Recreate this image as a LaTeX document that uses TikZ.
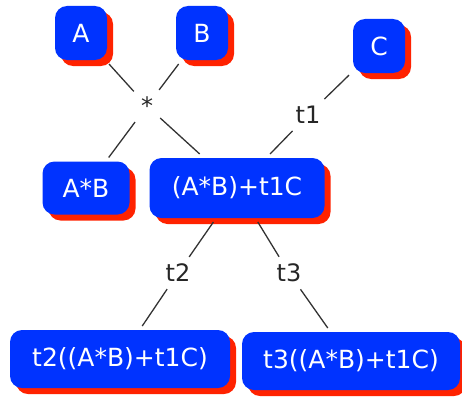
\documentclass[tikz,border=0pt]{standalone}
\usepackage{fontspec}
\setmainfont{DejaVu Sans}
\usetikzlibrary{shadows}
\definecolor{blu}{RGB}{0,51,255}
\definecolor{rosso}{RGB}{255,34,0}
\begin{document}
\begin{tikzpicture}[
			x=1pt, y=-1pt,
			scatola/.style={rectangle, rounded corners=12pt, fill=blu,
				text=white, font=\fontsize{25}{30}\selectfont,
				inner sep=0pt, outer sep=4pt,
				drop shadow={fill=rosso, opacity=1,
					shadow xshift=6pt, shadow yshift=-6pt}},
			etichetta/.style={inner sep=7pt, text=black!85,
				font=\fontsize{24}{28}\selectfont},
			ramo/.style={line width=1.3pt, black!80},
			]
			\useasboundingbox (0,0) rectangle (462,396);
			
			% foglie
			\node[scatola, minimum width=52pt, minimum height=54pt] (A) at (81,33) {A};
			\node[scatola, minimum width=52pt, minimum height=54pt] (B) at (202,33) {B};
			\node[scatola, minimum width=52pt, minimum height=54pt] (C) at (379,46) {C};
			
			% nodi intermedi
			\node[scatola, minimum width=87pt, minimum height=53pt] (AB) at (86,188) {A*B};
			\node[scatola, minimum width=175pt, minimum height=60pt] (ABC) at (237,188) {(A*B)+t1C};
			
			% risultati
			\node[scatola, minimum width=220pt, minimum height=58pt] (T2) at (120,359) {t2((A*B)+t1C)};
			\node[scatola, minimum width=218pt, minimum height=58pt] (T3) at (351,361) {t3((A*B)+t1C)};
			
			% operatori
			\node[etichetta] (op) at (147,106) {*};
			\node[etichetta] (t1) at (308,115) {t1};
			\node[etichetta] (t2) at (178,273) {t2};
			\node[etichetta] (t3) at (289,273) {t3};
			
			% rami
			\draw[ramo] (A) -- (op);
			\draw[ramo] (B) -- (op);
			\draw[ramo] (op) -- (AB);
			\draw[ramo] (op) -- (ABC);
			\draw[ramo] (C) -- (t1);
			\draw[ramo] (t1) -- (ABC);
			\draw[ramo] (ABC) -- (t2);
			\draw[ramo] (t2) -- (T2);
			\draw[ramo] (ABC) -- (t3);
			\draw[ramo] (t3) -- (T3);
			
		\end{tikzpicture}
\end{document}
